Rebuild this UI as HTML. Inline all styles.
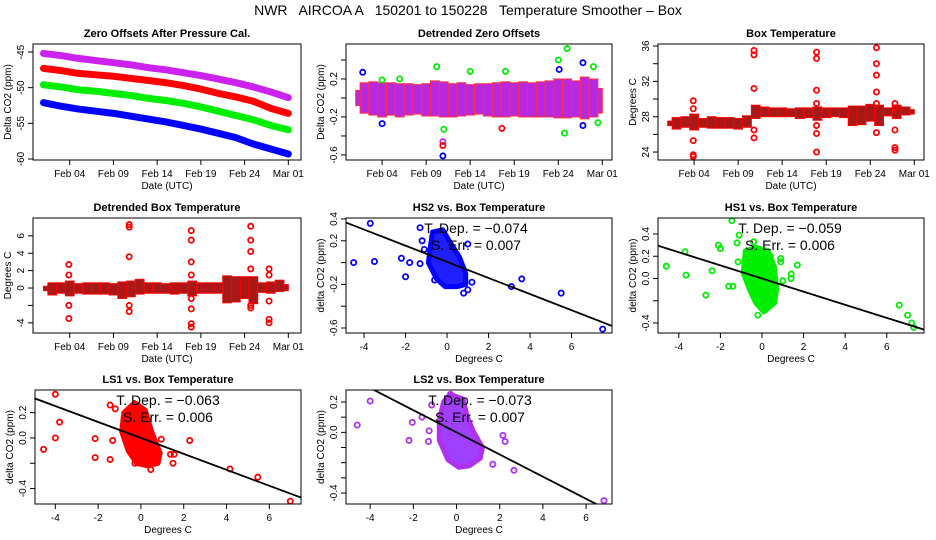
<!DOCTYPE html>
<html><head><meta charset="utf-8"><style>
body{margin:0;background:#fff;}
svg{display:block;font-family:"Liberation Sans",sans-serif;}
</style></head><body>
<svg id="chart" width="936" height="540" viewBox="0 0 936 540" xmlns="http://www.w3.org/2000/svg">
<rect width="936" height="540" fill="#fff"/>
<text x="468" y="15" font-size="14" text-anchor="middle" xml:space="preserve">NWR   AIRCOA A   150201 to 150228   Temperature Smoother – Box</text>
</svg>
<script>
// ---------- DATA ----------
const dateTickDays = [3, 8, 13, 18, 23, 28];
const dateTickLabels = ["Feb 04", "Feb 09", "Feb 14", "Feb 19", "Feb 24", "Mar 01"];

// Panel 1: zero offsets (every 2 days from Feb 01)
const zeroDays = [0,2,4,6,8,10,12,14,16,18,20,22,24,26,28];
const zeroLS2 = [-45.2,-45.5,-45.9,-46.2,-46.5,-46.8,-47.2,-47.5,-47.9,-48.3,-48.8,-49.3,-49.9,-50.6,-51.4];
const zeroLS1 = [-47.3,-47.6,-48.0,-48.2,-48.4,-48.7,-49.0,-49.3,-49.7,-50.2,-50.8,-51.3,-51.9,-52.9,-53.6];
const zeroHS1 = [-49.6,-49.9,-50.3,-50.5,-50.8,-51.1,-51.5,-51.8,-52.2,-52.7,-53.3,-53.9,-54.5,-55.3,-55.9];
const zeroHS2 = [-52.1,-52.6,-53.0,-53.3,-53.6,-54.0,-54.4,-54.8,-55.3,-55.8,-56.4,-57.0,-57.9,-58.6,-59.3];

// Panel 2: detrended zero offsets, daily band low/high + outliers
const bandDays = [0,1,2,3,4,5,6,7,8,9,10,11,12,13,14,15,16,17,18,19,20,21,22,23,24,25,26,27,28];
const detLo = [-0.08,-0.16,-0.18,-0.2,-0.18,-0.2,-0.18,-0.17,-0.19,-0.19,-0.2,-0.2,-0.19,-0.18,-0.17,-0.19,-0.2,-0.2,-0.19,-0.2,-0.2,-0.2,-0.2,-0.21,-0.21,-0.2,-0.22,-0.2,-0.16];
const detHi = [0.08,0.16,0.17,0.16,0.16,0.15,0.15,0.14,0.15,0.18,0.17,0.15,0.16,0.14,0.15,0.15,0.16,0.17,0.16,0.17,0.16,0.17,0.18,0.2,0.2,0.18,0.22,0.2,0.1];
const detOutDays = [0.8,3,3,5,9.2,10,9.9,9.9,9.9,13,17,16.6,23,24,23.7,23.1,25.8,25.8,27,27.5];
const detOutVals = [0.27,0.19,-0.27,0.2,0.33,-0.33,-0.46,-0.5,-0.61,0.28,0.28,-0.32,0.4,0.52,-0.37,0.3,0.37,-0.29,0.33,-0.26];
const detOutSeries = ["HS2","HS1","HS2","HS1","HS1","HS1","LS2","LS1","HS2","HS1","HS1","LS1","HS1","HS1","HS1","HS2","HS2","HS2","HS1","HS1"];

// Panel 3: box temperature
const boxLo = [27.0,26.6,26.8,26.5,26.8,26.7,26.7,26.7,26.6,26.8,27.8,28.0,28.0,28.0,28.0,27.8,27.9,27.6,27.9,28.0,27.9,27.0,27.1,27.5,27.0,28.1,27.8,28.2,28.3];
const boxHi = [27.5,27.9,28.0,28.3,27.8,28.0,27.9,27.9,27.8,28.1,29.3,29.1,29.0,29.0,28.9,29.0,29.0,29.1,29.0,29.0,29.0,29.2,29.2,29.4,29.3,29.0,29.3,29.1,28.8];
const boxSpikeDays = [2.9,2.9,2.9,2.9,2.9,9.8,9.8,9.8,9.8,9.8,16.9,16.9,16.9,16.9,16.9,16.9,16.9,23.7,23.7,23.7,23.7,23.7,23.7,25.8,25.8,25.8,25.8,25.8];
const boxSpikeVals = [29.8,28.9,25.3,23.7,23.5,35.5,35.0,31.2,26.5,25.6,35.3,34.6,31.0,29.5,27.0,26.1,24.0,35.8,34.0,32.7,30.8,29.5,26.2,24.2,24.5,26.5,29.5,29.0];

// Panel 4: detrended box temperature
const dboxLo = [-0.3,-0.8,-0.6,-0.9,-0.6,-0.7,-0.7,-0.7,-0.8,-1.2,-1.0,-0.7,-0.6,-0.6,-0.6,-0.7,-0.6,-0.9,-0.6,-0.6,-0.6,-1.7,-1.6,-1.2,-1.8,-0.5,-0.6,-0.4,-0.3];
const dboxHi = [0.2,0.6,0.6,0.8,0.5,0.6,0.6,0.6,0.5,0.7,0.8,1.0,0.6,0.6,0.5,0.6,0.6,0.8,0.6,0.6,0.6,1.4,1.3,1.3,1.3,0.6,0.7,0.9,0.4];
const dboxSpikeDays = [2.9,2.9,2.9,2.9,9.8,9.8,9.8,9.8,9.8,16.9,16.9,16.9,16.9,16.9,16.9,16.9,16.9,23.7,23.7,23.7,23.7,23.7,23.7,25.8,25.8,25.8,25.8,25.8];
const dboxSpikeVals = [2.7,1.5,-2.0,-3.5,7.3,7.0,3.6,-2.0,-2.7,6.6,5.5,3.0,1.5,-1.2,-2.4,-4.1,-4.5,7.1,5.5,4.2,2.2,-2.0,-2.3,2.2,1.5,-1.5,-3.6,-4.0];

// Scatter panels
const slopes = [-0.074, -0.059, -0.063, -0.073];
const intercepts = [0.007, 0.0, 0.0, 0.0];
const stdErrs = ["0.007", "0.006", "0.006", "0.007"];
const hs2HullX = [-0.7,-0.2,0.1,0.6,0.9,0.9,0.5,-0.1,-0.5,-0.9,-0.8];
const hs2HullY = [0.28,0.3,0.2,0.05,-0.1,-0.2,-0.22,-0.22,-0.15,0.0,0.15];
const hs2X = [-4.5,-3.7,-3.5,-2.2,-2.0,-1.8,-1.3,-1.2,-1.1,-1.3,-0.6,1.0,1.2,0.8,1.0,3.1,3.6,5.5,7.5];
const hs2Y = [0.0,0.36,0.01,0.04,-0.13,0.0,0.32,0.2,0.12,-0.01,-0.16,0.17,-0.18,-0.28,-0.25,-0.22,-0.15,-0.28,-0.61];
const hs1HullX = [-0.8,-0.3,0.3,0.6,0.7,0.6,0.1,-0.3,-0.6,-0.9];
const hs1HullY = [0.25,0.28,0.25,0.1,-0.1,-0.22,-0.3,-0.22,-0.1,0.05];
const hs1X = [-4.6,-3.7,-3.65,-2.7,-2.4,-2.1,-2.0,-1.6,-1.4,-1.45,-1.1,-1.2,-1.15,-0.4,-0.2,0.4,0.4,0.9,0.9,1.0,1.4,1.4,1.7,0.0,6.6,7.0,7.2,7.3];
const hs1Y = [0.11,0.24,0.03,-0.15,0.07,0.3,0.27,-0.07,-0.07,0.52,0.39,0.32,0.15,0.33,-0.33,0.2,0.15,0.18,0.15,-0.02,0.04,0.0,0.12,-0.27,-0.24,-0.33,-0.4,-0.44];
const ls1HullX = [-0.8,-0.3,0.2,0.5,0.9,0.8,0.3,-0.2,-0.6,-0.9];
const ls1HullY = [0.2,0.28,0.22,0.05,-0.12,-0.2,-0.22,-0.2,-0.1,0.05];
const ls1X = [-4.0,-4.55,-4.0,-3.8,-2.14,-2.14,-1.44,-1.32,-1.44,-1.2,-0.28,1.38,1.55,1.5,2.28,4.16,5.46,6.98,0.46,0.95];
const ls1Y = [0.345,-0.09,0.0,0.125,-0.005,-0.155,-0.17,-0.02,0.26,0.23,-0.2,-0.13,-0.13,-0.2,-0.02,-0.245,-0.31,-0.5,-0.25,-0.01];
const ls2HullX = [-0.6,-0.3,0.3,0.5,0.8,1.2,1.1,0.6,0.1,-0.4,-0.8,-0.8];
const ls2HullY = [0.2,0.25,0.22,0.1,0.0,-0.1,-0.17,-0.22,-0.23,-0.18,-0.05,0.08];
const ls2X = [-4.6,-4.0,-2.2,-2.05,-1.27,-1.3,-1.6,-1.15,1.68,2.15,2.25,2.66,6.83,-0.28];
const ls2Y = [0.048,0.206,-0.053,0.066,0.01,-0.06,0.1,0.18,-0.21,-0.02,-0.06,-0.25,-0.45,0.25];
const scatterTicksX = [-4,-2,0,2,4,6];

// ---------- DRAWING ----------
const svg = document.getElementById('chart');
const NS = 'http://www.w3.org/2000/svg';
const COL = {HS2:'#0000ff', HS1:'#00ee00', LS1:'#ff0000', LS2:'#b030f0'};
function mk(tag, attrs, parent){
  const e = document.createElementNS(NS, tag);
  for (const k in attrs) e.setAttribute(k, attrs[k]);
  (parent||svg).appendChild(e);
  return e;
}
function scale(d0,d1,r0,r1){ return v => r0 + (v-d0)/(d1-d0)*(r1-r0); }

function panel(p){
  const g = mk('g', {});
  
  
  const sx = scale(p.xd[0], p.xd[1], p.x0, p.x1);
  const sy = scale(p.yd[0], p.yd[1], p.y1, p.y0);
  const t = mk('text', {x:(p.x0+p.x1)/2, y:p.y0-7, 'font-size':11, 'font-weight':'bold', 'text-anchor':'middle'}, g);
  t.textContent = p.title;
  
  
  p.xt.forEach((v,i)=>{
    const x = sx(v);
    mk('line', {x1:x, x2:x, y1:p.y1, y2:p.y1+5, stroke:'#000', 'stroke-width':1}, g);
    const tl = mk('text', {x:x, y:p.y1+17, 'font-size':10, 'text-anchor':'middle'}, g);
    tl.textContent = p.xl[i];
    
    
  });
  p.yt.forEach((v,i)=>{
    const y = sy(v);
    mk('line', {x1:p.x0-5, x2:p.x0, y1:y, y2:y, stroke:'#000', 'stroke-width':1}, g);
    if (p.yl[i] !== '') {
      const tl = mk('text', {x:p.x0-9, y:y, 'font-size':10, 'text-anchor':'middle', transform:`rotate(-90 ${p.x0-9} ${y})`}, g);
      tl.textContent = p.yl[i];
      
      
    }
  });
  const xt = mk('text', {x:(p.x0+p.x1)/2, y:p.y1+29, 'font-size':10, 'text-anchor':'middle'}, g);
  xt.textContent = p.xlab;
  
  
  const yx = p.x0-22, yy=(p.y0+p.y1)/2;
  const yt = mk('text', {x:yx, y:yy, 'font-size':10, 'text-anchor':'middle', transform:`rotate(-90 ${yx} ${yy})`}, g);
  yt.textContent = p.ylab;
  
  
  const cid = 'c'+p.name;
  const cp = mk('clipPath', {id:cid}, g);
  mk('rect', {x:p.x0, y:p.y0, width:p.x1-p.x0, height:p.y1-p.y0}, cp);
  const plot = mk('g', {'clip-path':`url(#${cid})`}, g);
  
  
  p.draw(plot, sx, sy);
  const box = mk('rect', {x:p.x0, y:p.y0, width:p.x1-p.x0, height:p.y1-p.y0, fill:'none', stroke:'#000', 'stroke-width':1}, g);
  
  
}

function pt(parent, x, y, c){
  const e = mk('circle', {cx:x, cy:y, r:2.6, fill:'none', stroke:c, 'stroke-width':1.8}, parent);
  
  
}
function bands(parent, sx, sy, lo, hi, fill, stroke){
  bandDays.forEach((d,i)=>{
    const x0 = sx(d-0.5 < 0 ? d : d-0.5), x1 = sx(d+0.5 > 28 ? d : d+0.5);
    const r = mk('rect', {x:x0, y:sy(hi[i]), width:Math.max(x1-x0,3), height:sy(lo[i])-sy(hi[i]), fill:fill, stroke:stroke, 'stroke-width':1}, parent);
    
    
  });
}

panel({name:'zero-offsets-panel', title:'Zero Offsets After Pressure Cal.', x0:33, x1:301, y0:44, y1:160,
  xd:[-1.2,29.45], yd:[-60.14,-43.88], xt:dateTickDays, xl:dateTickLabels,
  yt:[-45,-50,-55,-60], yl:['-45','-50','-55','-60'], xlab:'Date (UTC)', ylab:'Delta CO2 (ppm)',
  draw:(g,sx,sy)=>{
    [[zeroLS2,'#cc22ee','ls2-line'],[zeroLS1,COL.LS1,'ls1-line'],[zeroHS1,COL.HS1,'hs1-line'],[zeroHS2,COL.HS2,'hs2-line']].forEach(s=>{
      const l = mk('polyline', {points:zeroDays.map((d,i)=>sx(d)+','+sy(s[0][i])).join(' '), fill:'none', stroke:s[1], 'stroke-width':7, 'stroke-linejoin':'round', 'stroke-linecap':'round'}, g);
      
      
    });
  }});

panel({name:'detrended-zero-panel', title:'Detrended Zero Offsets', x0:346, x1:612, y0:44, y1:160,
  xd:[-1.1,29.1], yd:[-0.653,0.568], xt:dateTickDays, xl:dateTickLabels,
  yt:[0.4,0.2,0,-0.2,-0.4,-0.6], yl:['','0.2','','-0.2','','-0.6'], xlab:'Date (UTC)', ylab:'Delta CO2 (ppm)',
  draw:(g,sx,sy)=>{
    bands(g, sx, sy, detLo, detHi, '#b828e0', '#ff3040');
    detOutDays.forEach((d,i)=>pt(g, sx(d), sy(detOutVals[i]), COL[detOutSeries[i]]));
  }});

panel({name:'box-temperature-panel', title:'Box Temperature', x0:658, x1:924, y0:44, y1:160,
  xd:[-1.1,29.1], yd:[23.1,36.23], xt:dateTickDays, xl:dateTickLabels,
  yt:[24,26,28,30,32,34,36], yl:['24','','28','','32','','36'], xlab:'Date (UTC)', ylab:'Degrees C',
  draw:(g,sx,sy)=>{
    bands(g, sx, sy, boxLo, boxHi, '#a81818', '#ff0000');
    boxSpikeDays.forEach((d,i)=>pt(g, sx(d), sy(boxSpikeVals[i]), '#ff0000'));
  }});

panel({name:'detrended-box-panel', title:'Detrended Box Temperature', x0:33, x1:301, y0:218, y1:333,
  xd:[-1.2,29.45], yd:[-5.17,8.05], xt:dateTickDays, xl:dateTickLabels,
  yt:[-4,-2,0,2,4,6], yl:['-4','','0','2','4','6'], xlab:'Date (UTC)', ylab:'Degrees C',
  draw:(g,sx,sy)=>{
    bands(g, sx, sy, dboxLo, dboxHi, '#a81818', '#ff0000');
    dboxSpikeDays.forEach((d,i)=>pt(g, sx(d), sy(dboxSpikeVals[i]), '#ff0000'));
  }});

function scatterDraw(idx, hx, hy, xs, ys, col, fill){
  return (g,sx,sy)=>{
    const h = mk('polygon', {points:hx.map((v,i)=>sx(v)+','+sy(hy[i])).join(' '), fill:fill, stroke:col, 'stroke-width':5, 'stroke-linejoin':'round'}, g);
    
    
    xs.forEach((v,i)=>pt(g, sx(v), sy(ys[i]), col));
    const l = mk('line', {x1:sx(-10), y1:sy(intercepts[idx]+slopes[idx]*-10), x2:sx(10), y2:sy(intercepts[idx]+slopes[idx]*10), stroke:'#000', 'stroke-width':1.8}, g);
    
    
  };
}
function annot(cx, y, idx){
  const a = mk('text', {x:cx, y:y, 'font-size':14, 'text-anchor':'middle'});
  a.textContent = 'T. Dep. =  ' + slopes[idx].toFixed(3).replace('-', '\u2212');
  
  
  const b = mk('text', {x:cx, y:y+17, 'font-size':14, 'text-anchor':'middle'});
  b.textContent = 'S. Err. =  ' + stdErrs[idx];
  
  
}
const sxl = scatterTicksX.map(String);

panel({name:'hs2-scatter-panel', title:'HS2 vs. Box Temperature', x0:346, x1:612, y0:218, y1:333,
  xd:[-4.87,7.95], yd:[-0.646,0.409], xt:scatterTicksX, xl:sxl,
  yt:[0.4,0.2,0,-0.2,-0.4,-0.6], yl:['0.4','0.2','','-0.2','','-0.6'], xlab:'Degrees C', ylab:'delta CO2 (ppm)',
  draw:scatterDraw(0, hs2HullX, hs2HullY, hs2X, hs2Y, COL.HS2, '#2020ff')});
panel({name:'hs1-scatter-panel', title:'HS1 vs. Box Temperature', x0:658, x1:924, y0:218, y1:333,
  xd:[-5.0,7.79], yd:[-0.49,0.544], xt:scatterTicksX, xl:sxl,
  yt:[0.4,0.2,0,-0.2,-0.4], yl:['0.4','0.2','0.0','','-0.4'], xlab:'Degrees C', ylab:'delta CO2 (ppm)',
  draw:scatterDraw(1, hs1HullX, hs1HullY, hs1X, hs1Y, COL.HS1, '#00ee00')});
panel({name:'ls1-scatter-panel', title:'LS1 vs. Box Temperature', x0:35, x1:301, y0:390, y1:504,
  xd:[-4.95,7.48], yd:[-0.522,0.379], xt:scatterTicksX, xl:sxl,
  yt:[0.2,0,-0.2,-0.4], yl:['0.2','0.0','','-0.4'], xlab:'Degrees C', ylab:'delta CO2 (ppm)',
  draw:scatterDraw(2, ls1HullX, ls1HullY, ls1X, ls1Y, COL.LS1, '#ff0000')});
panel({name:'ls2-scatter-panel', title:'LS2 vs. Box Temperature', x0:346, x1:612, y0:390, y1:504,
  xd:[-5.12,7.2], yd:[-0.472,0.279], xt:scatterTicksX, xl:sxl,
  yt:[0.2,0.1,0,-0.1,-0.2,-0.3,-0.4], yl:['0.2','','0.0','','','','-0.4'], xlab:'Degrees C', ylab:'delta CO2 (ppm)',
  draw:scatterDraw(3, ls2HullX, ls2HullY, ls2X, ls2Y, COL.LS2, '#a040ff')});

annot(476, 233, 0);
annot(790, 233, 1);
annot(168, 405, 2);
annot(480, 405, 3);
</script>
</body></html>
